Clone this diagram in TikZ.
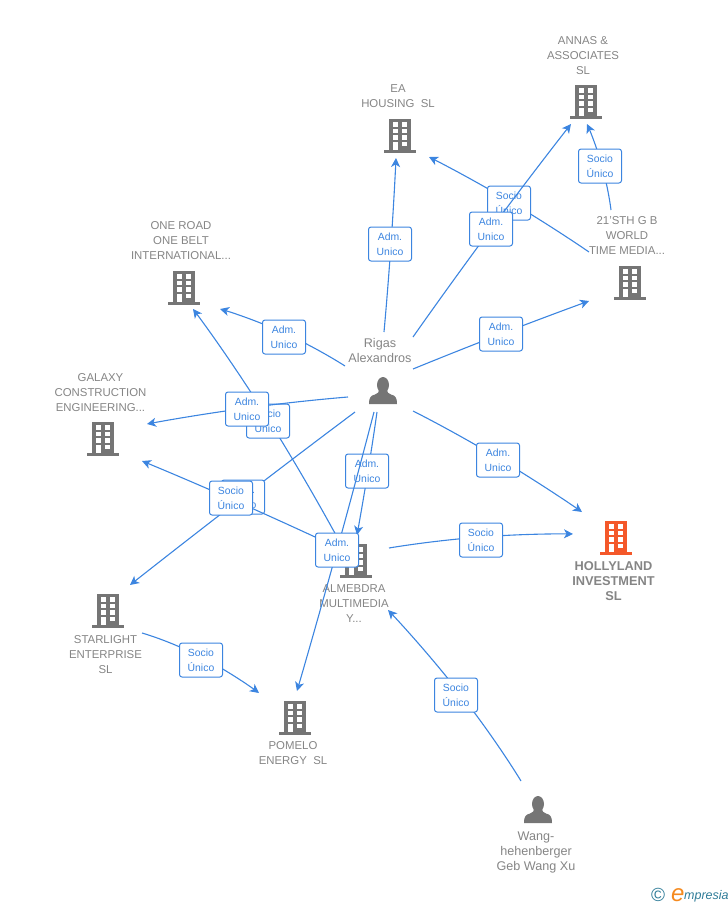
\documentclass[tikz,border=0pt]{standalone}
\usepackage{fontspec}
\setmainfont{Liberation Sans}
\usetikzlibrary{arrows.meta}
\definecolor{linkblue}{HTML}{3C85E0}
\definecolor{labelgray}{HTML}{858585}
\definecolor{icongray}{HTML}{757575}
\definecolor{iconorange}{HTML}{F4582A}
\definecolor{logoteal}{HTML}{2F7C98}
\definecolor{logoorange}{HTML}{F58A1F}
\tikzset{
  conn/.style={draw=linkblue,line width=1.1pt,-{Stealth[length=9pt,width=9pt,inset=2.5pt]}},
  lbl/.style={draw=linkblue,line width=1pt,fill=white,rounded corners=2.5pt,minimum width=43pt,minimum height=34pt,inner sep=0pt,align=center,text=linkblue,font=\fontsize{10.4}{15}\selectfont},
  entity/.style={text=labelgray,align=center,inner sep=0pt,font=\fontsize{11.4}{15}\selectfont},
  persontext/.style={entity,font=\fontsize{12.6}{15}\selectfont},
  pics/bldg/.style={code={
    \fill[#1] (-11,-16) rectangle (11,15);
    \fill[#1] (-16,15) rectangle (16,17.5);
    \foreach \yy in {-13,-6.5,0} {
      \fill[white] (-7,\yy) rectangle (-2,\yy+4.5);
      \fill[white] (2,\yy) rectangle (7,\yy+4.5);
    }
    \fill[white] (-7,6.5) rectangle (-2,15);
    \fill[white] (2,6.5) rectangle (7,11);
  }},
  pics/person/.style={code={
    \fill[icongray] (0,-6) ellipse (6 and 8);
    \fill[icongray] (-14,13) .. controls (-14,6) and (-12,4.5) .. (-8,3.5) .. controls (-5,2.5) and (-4,1) .. (-4,-1) -- (4,-1) .. controls (4,1) and (5,2.5) .. (8,3.5) .. controls (12,4.5) and (14,6) .. (14,13) -- cycle;
  }}
}
% #1 = label position, #2 = name, #3 = start, #4 = point the curve passes, #5 = end, #6/#7 = label lines
\newcommand{\conlink}[7]{%
  \coordinate (#2s) at (#3);
  \coordinate (#2m) at (#4);
  \coordinate (#2e) at (#5);
  \draw[conn] plot[smooth,tension=1] coordinates {(#2s) (#2m) (#2e)};
  \node[lbl] (#2) at (#1) {#6\\#7};
}
\begin{document}
\begin{tikzpicture}[x=1pt,y=-1pt]
\useasboundingbox (0,0) rectangle (728,905);
% entities
\pic at (586,101) {bldg=icongray};
\node[entity] (annas) at (583,55.5) {ANNAS \&\\ASSOCIATES\\SL};
\pic at (400,135) {bldg=icongray};
\node[entity] (ea) at (398,96.5) {EA\\HOUSING\ \ SL};
\pic at (630,282) {bldg=icongray};
\node[entity] (sth) at (627,236) {21'STH G B\\WORLD\\TIME MEDIA...};
\pic at (184,287) {bldg=icongray};
\node[entity] (road) at (181,241) {ONE ROAD\\ONE BELT\\INTERNATIONAL...};
\pic at (103,438) {bldg=icongray};
\node[entity] (galaxy) at (100.5,393) {GALAXY\\CONSTRUCTION\\ENGINEERING...};
\pic at (356,560) {bldg=icongray};
\node[entity] (alme) at (354,604) {ALMEBDRA\\MULTIMEDIA\\Y...};
\pic at (108,610) {bldg=icongray};
\node[entity] (star) at (105.5,655) {STARLIGHT\\ENTERPRISE\\SL};
\pic at (295,717) {bldg=icongray};
\node[entity] (pomelo) at (293,753.5) {POMELO\\ENERGY\ \ SL};
\pic at (616,537) {bldg=iconorange};
\node[entity,font=\fontsize{12.8}{15}\selectfont\bfseries] (holly) at (613.5,581) {HOLLYLAND\\INVESTMENT\\SL};
\pic at (383,391) {person};
\node[persontext] (rigas) at (380,350.5) {Rigas\\Alexandros};
\pic at (538,810) {person};
\node[persontext] (wang) at (536,852) {Wang-\\hehenberger\\Geb Wang Xu};
% connectors with their labels, in stacking order
\conlink{390,244}{l01}{384,332}{391,244}{396,158}{Adm.}{Unico}
\conlink{509,203}{l02}{589,252}{509,201}{429,157}{Socio}{Único}
\conlink{491,229}{l03}{413,337}{491,229}{571,124}{Adm.}{Unico}
\conlink{600,166}{l04}{611,210}{602,166}{587,124}{Socio}{Único}
\conlink{501,334}{l05}{413,369}{501,334}{589,301}{Adm.}{Unico}
\conlink{284,337}{l06}{345,366}{284,333}{220,309}{Adm.}{Unico}
\conlink{243,497}{l07}{355,412}{243,497}{130,585}{Adm.}{Unico}
\conlink{268,421}{l08}{343,548}{268,419}{193,309}{Socio}{Unico}
\conlink{247,409}{l09}{348,397}{247,408}{147,424}{Adm.}{Unico}
\conlink{231,498}{l10}{328,543}{231,499}{142,461}{Socio}{Único}
\conlink{367,471}{l11}{377,412}{368,471}{357,535}{Adm.}{Unico}
\conlink{498,460}{l12}{413,411}{498,458}{582,512}{Adm.}{Unico}
\conlink{481,540}{l13}{389,548}{481,537}{573,534}{Socio}{Único}
\conlink{201,660}{l14}{142,633}{201,657}{259,693}{Socio}{Único}
\conlink{456,695}{l15}{521,781}{461,695}{388,610}{Socio}{Único}
\conlink{337,550}{l16}{374,412}{337,550}{297,691}{Adm.}{Unico}
% logo
\node[text=logoteal,inner sep=0pt,font=\fontsize{19}{19}\selectfont] (copy) at (658,894.5) {©};
\node[text=logoorange,inner sep=0pt,font=\fontsize{24}{24}\selectfont\itshape,anchor=base west] (logoe) at (671,901) {e};
\node[text=logoteal,inner sep=0pt,font=\fontsize{12.5}{13}\selectfont\itshape,anchor=base west] (logot) at (684,899) {mpresia};
\end{tikzpicture}
\end{document}
